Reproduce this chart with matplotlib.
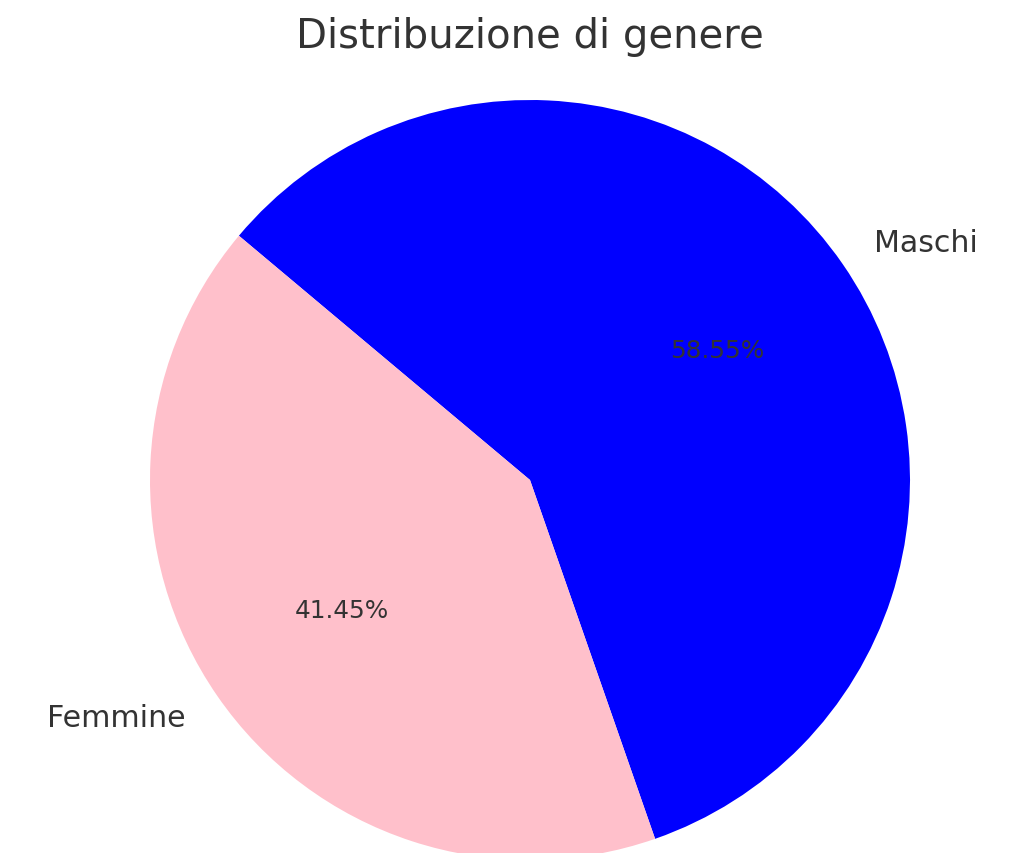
import matplotlib.pyplot as plt

labels = ["Maschi", "Femmine"]
values = [58.55, 41.45]
colors = ["blue", "pink"]

TEXT = "#333333"
W, H = 1010, 854
cx, cy, r = 530, 481, 380  # pie centre / radius in pixels

fig = plt.figure(figsize=(W / 100, H / 100), dpi=100)
ax = fig.add_axes([0, 0, 1, 1])

wedges, texts, autotexts = ax.pie(
    values,
    labels=labels,
    colors=colors,
    autopct="%1.2f%%",
    startangle=140,
    counterclock=False,
    textprops={"color": TEXT, "fontsize": 21.6},
)
for t in autotexts:
    t.set_fontsize(17.8)
    t.set_color(TEXT)

ax.set_aspect("auto")
ax.set_xlim(-cx / r, (W - cx) / r)
ax.set_ylim(-(H - cy) / r, cy / r)
ax.axis("off")

fig.text(cx / W, 1 - 48 / H, "Distribuzione di genere", ha="center", va="baseline",
         fontsize=29, color=TEXT)

fig.savefig("out.png", dpi=100)
